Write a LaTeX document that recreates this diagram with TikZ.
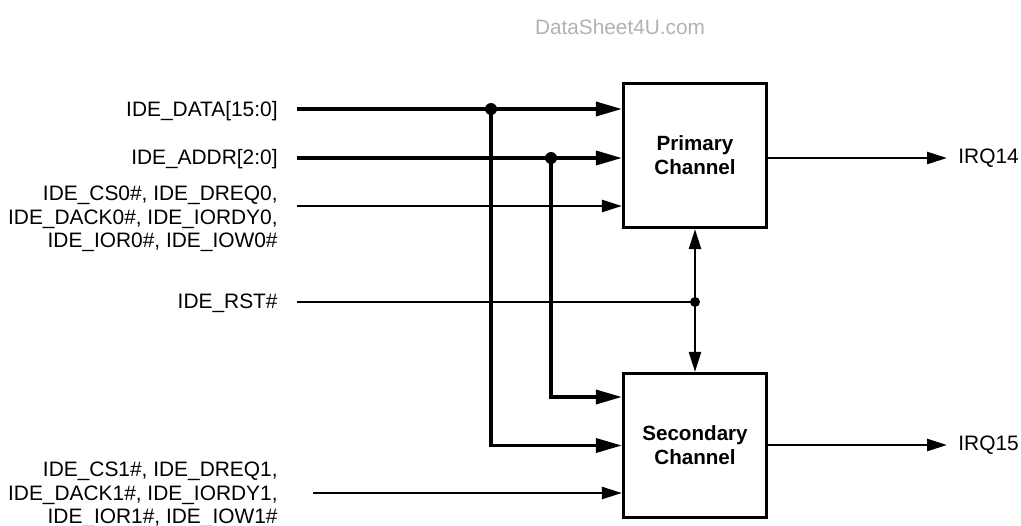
\documentclass[tikz,border=0pt]{standalone}
\usepackage{fontspec}
\setmainfont{Liberation Sans}
\usepackage{tikz}
\usetikzlibrary{positioning}
\usetikzlibrary{arrows.meta}

\begin{document}
\begin{tikzpicture}[
                	    x = 0.5pt, y = -0.5pt,
                		chan/.style = { draw, black, line width = 1.6pt, minimum width = 71.5pt, minimum height = 72pt, align = center, inner sep = 0pt, font = \fontsize{10.3}{12}\selectfont\bfseries },
                		sig/.style = { anchor = east, align = right, inner sep = 0pt, font = \fontsize{10.45}{11.8}\selectfont },
                		irq/.style = { anchor = west, inner sep = 0pt, font = \fontsize{10.45}{11.8}\selectfont },
                		bus/.style = { line width = 1.75pt, -{Triangle[length = 13pt, width = 7pt]} },
                		wire/.style = { line width = 1.25pt, -{Triangle[length = 10pt, width = 6pt]} },
                		plain/.style = { line width = 1.25pt },
                		dot/.style = { circle, fill, black, inner sep = 0pt, minimum size = 6pt },
            		]
            		    \useasboundingbox (0,0) rectangle (1021,525);
            		    \node[font = \fontsize{10.4}{12}\selectfont, text = black!30] (site) at (620,27) {DataSheet4U.com};

            		    % the two channel blocks
            		    \node[chan] (prim) at (695,155.5) {Primary\\Channel};
            		    \node[chan] (sec) at (695,445.5) {Secondary\\Channel};

            		    % input signal names
            		    \node[sig] (dataLbl) at (278,111) {IDE\_DATA[15:0]};
            		    \node[sig] (addrLbl) at (278,159) {IDE\_ADDR[2:0]};
            		    \node[sig] (ctl0Lbl) at (278,219) {IDE\_CS0\#, IDE\_DREQ0,\\IDE\_DACK0\#, IDE\_IORDY0,\\IDE\_IOR0\#, IDE\_IOW0\#};
            		    \node[sig] (rstLbl) at (278,303) {IDE\_RST\#};
            		    \node[sig] (ctl1Lbl) at (278,495) {IDE\_CS1\#, IDE\_DREQ1,\\IDE\_DACK1\#, IDE\_IORDY1,\\IDE\_IOR1\#, IDE\_IOW1\#};

            		    % outputs
            		    \node[irq] (irq14) at (958,158) {IRQ14};
            		    \node[irq] (irq15) at (958,445) {IRQ15};

            		    % line starts and taps
            		    \coordinate (dataIn) at (297,109);
            		    \coordinate (addrIn) at (297,158);
            		    \coordinate (ctl0In) at (297,206);
            		    \coordinate (rstIn) at (297,302);
            		    \coordinate (ctl1In) at (313,493);
            		    \node[dot] (dataTap) at (491,109) {};
            		    \node[dot] (addrTap) at (551,158) {};
            		    \node[dot, minimum size = 5pt] (rstTap) at (695,302) {};

            		    % primary side
            		    \draw[bus] (dataIn) -- (dataIn -| prim.west);
            		    \draw[bus] (addrIn) -- (addrIn -| prim.west);
            		    \draw[wire] (ctl0In) -- (ctl0In -| prim.west);

            		    % shared buses down to the secondary
            		    \draw[bus] (dataTap.center) |- (sec.west);
            		    \draw[bus] (addrTap.center) |- ([yshift = 24.25pt]sec.west);
            		    \draw[wire] (ctl1In) -- (ctl1In -| sec.west);

            		    % reset to both channels
            		    \draw[plain] (rstIn) -- (rstTap.center);
            		    \draw[wire] (rstTap.center) -- (prim.south);
            		    \draw[wire] (rstTap.center) -- (sec.north);

            		    % interrupts
            		    \draw[wire] (prim.east |- irq14) -- ([xshift = -5.5pt]irq14.west);
            		    \draw[wire] (sec.east |- irq15) -- ([xshift = -5.5pt]irq15.west);
            		\end{tikzpicture}
\end{document}
